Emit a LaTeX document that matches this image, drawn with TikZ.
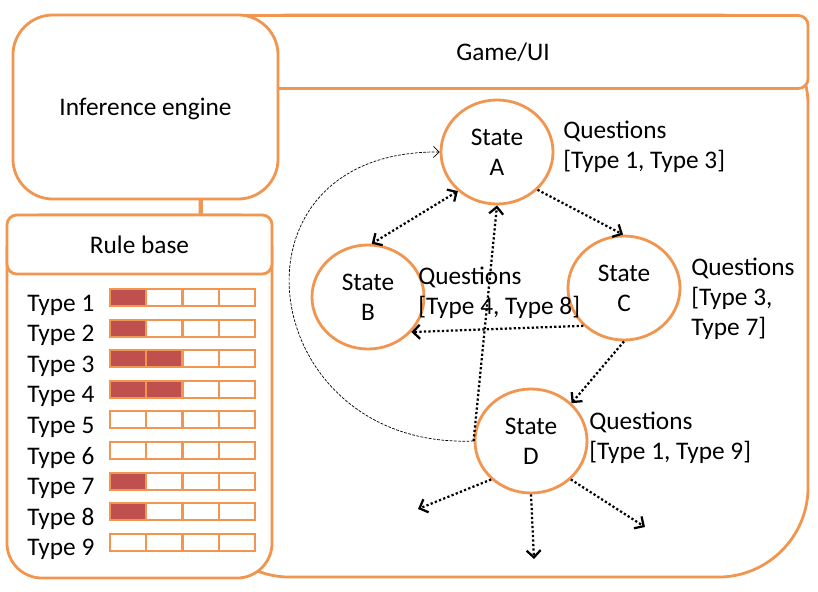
\documentclass[tikz,border=0pt]{standalone}
\usepackage{fontspec}
\setmainfont{Carlito}
\usepackage{xcolor}
\definecolor{boxorange}{RGB}{241, 150, 80}
\definecolor{barred}{RGB}{192, 80, 77}
\usetikzlibrary{arrows.meta, shapes.geometric, calc}

\newcommand{\bigfont}{\fontsize{18}{21.5}\selectfont}

\begin{document}
\begin{tikzpicture}[x=0.025cm, y=-0.025cm, font=\bigfont]

% === Parameters ===
\def\rowgap{30.6}   % vertical distance between rule rows
\def\cellw{36.25}   % width of one bar cell

\useasboundingbox (0,0) rectangle (818,592);

\tikzset{
    frame/.style={draw=boxorange, line width=2pt, fill=white},
    state/.style={ellipse, draw=boxorange, line width=2pt, fill=white,
        minimum width=2.8cm, minimum height=2.6cm, align=center, inner sep=0pt},
    flow/.style={line width=1.6pt, dash pattern=on 1.6pt off 1.6pt,
        -{Straight Barb[length=5pt, width=10pt]}},
    flowboth/.style={flow, {Straight Barb[length=5pt, width=10pt]}-{Straight Barb[length=5pt, width=10pt]}},
    recall/.style={line width=0.5pt, dash pattern=on 2pt off 1pt,
        -{Straight Barb[length=4pt, width=8pt]}},
    questions/.style={anchor=west, align=left, inner sep=0pt},
    cell/.style={draw=boxorange, line width=1.5pt}
}

% === Game/UI ===
\node[frame, rounded corners=2.25cm, minimum width=15.2cm, minimum height=14.05cm] (game) at (504,296) {};
\node[frame, rounded corners=7pt, minimum width=15.25cm, minimum height=1.825cm] (gamehead) at (503,52) {Game/UI};

% === Inference engine and rule base ===
\node[frame, rounded corners=1cm, minimum width=6.625cm, minimum height=4.6cm, text height=15.5pt] (engine) at (145.5,107) {Inference engine};
\node[frame, rounded corners=0.875cm, minimum width=6.625cm, minimum height=9.075cm] (rules) at (139.5,396.5) {};
\node[frame, rounded corners=7pt, minimum width=6.625cm, minimum height=1.475cm] (rulehead) at (139.5,244.5) {Rule base};

\coordinate (link) at (202,0);
\draw[boxorange, line width=2pt] (engine.south -| link) -- (rulehead.north -| link);

% Rows: type number / filled cells
\foreach \i/\filled in {1/1,2/1,3/2,4/2,5/0,6/0,7/1,8/1,9/0} {
    \node[anchor=west, inner sep=0pt] (type\i) at (27, {305+(\i-1)*\rowgap}) {Type \i};
    \foreach \k in {1,...,4} {
        \ifnum\k>\filled \def\cellfill{white}\else \def\cellfill{barred}\fi
        \draw[cell, fill=\cellfill] ({110+(\k-1)*\cellw}, {303+(\i-1)*\rowgap-14}) rectangle ++(\cellw, 17);
    }
}

% === States ===
\node[state] (A) at (497,152) {State\\A};
\node[state] (B) at (368,297) {State\\B};
\node[state] (C) at (624,288) {State\\C};
\node[state] (D) at (531,441) {State\\D};

\node[questions] (qA) at (563,147) {Questions\\{[Type 1, Type 3]}};
\node[questions] (qB) at (418,293) {Questions\\{[Type 4, Type 8]}};
\node[questions] (qC) at (691,299) {Questions\\{[Type 3,}\\Type 7]};
\node[questions] (qD) at (589,438) {Questions\\{[Type 1, Type 9]}};

% === Transitions ===
\draw[flowboth] (A.225) -- (B.86);
\draw[flow] (A.317) -- (C.91);
\draw[flow] (D.180) -- (A.270);
\draw[flow] (C.223) -- (B.321);
\draw[flow] (C.270) -- (D.43);

% open ends leaving D
\coordinate (out1) at (418,509);
\coordinate (out2) at (534,559);
\coordinate (out3) at (645,527);
\draw[flow] (D.224) -- (out1);
\draw[flow] (D.270) -- (out2);
\draw[flow] (D.316) -- (out3);

% thin return path D -> A
\draw[recall] (D.180) .. controls (255,450) and (215,150) .. (A.180);

\end{tikzpicture}
\end{document}
